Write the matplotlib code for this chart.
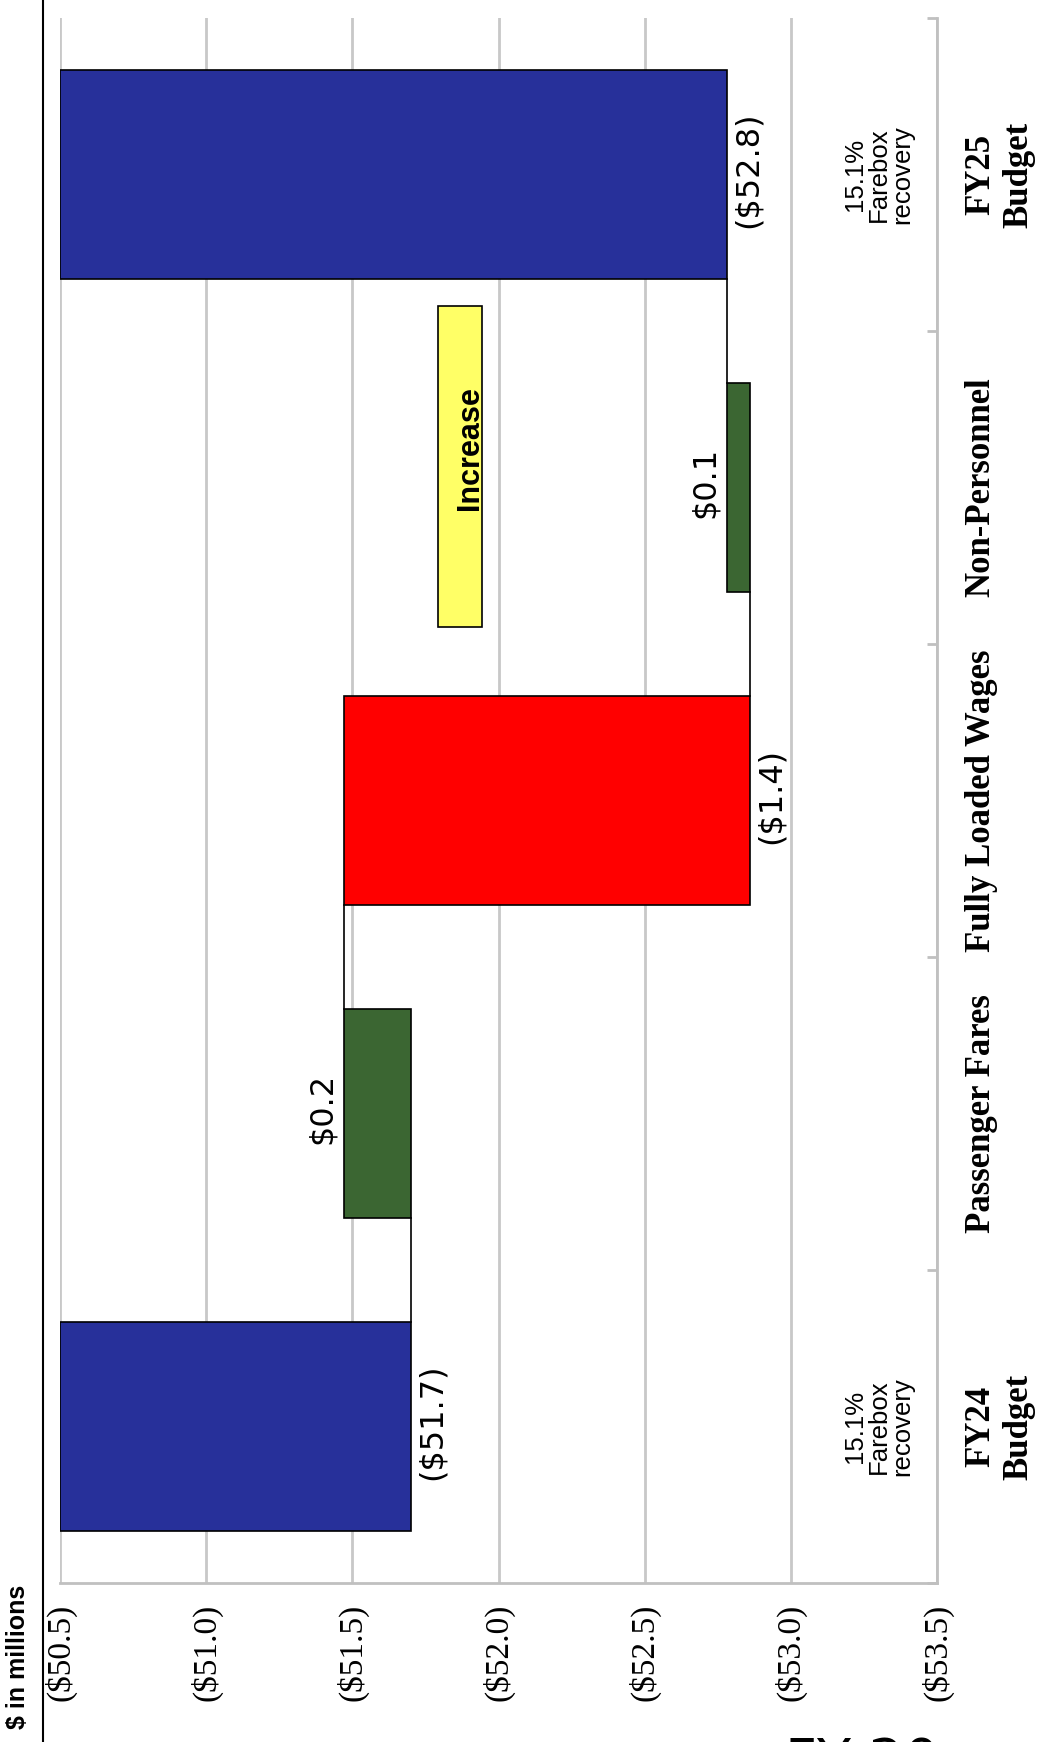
import numpy as np
import matplotlib.pyplot as plt
from matplotlib.patches import Rectangle
from matplotlib.lines import Line2D

# waterfall data ($ in millions, shown as negatives)
categories = ['FY24\nBudget', 'Passenger Fares', 'Fully Loaded Wages', 'Non-Personnel', 'FY25\nBudget']
fy24_total = -51.70
changes = [0.23, -1.39, 0.08]   # fares, wages, non-personnel
fy25_total = -52.78
value_labels = ['($51.7)', '$0.2', '($1.4)', '$0.1', '($52.8)']
bar_colors = ['#27309a', '#3b6632', '#ff0000', '#3b6632', '#27309a']
farebox_text = '15.1%\nFarebox\nrecovery'
value_ticks = [-50.5, -51.0, -51.5, -52.0, -52.5, -53.0, -53.5]

W, H = 1047, 1742
fig = plt.figure(figsize=(W / 100, H / 100), dpi=100)
ax = fig.add_axes([60 / W, 1 - 1583 / H, (937 - 60) / W, (1583 - 18) / H])

# running totals
base = value_ticks[0]
running = [fy24_total]
for c in changes:
    running.append(running[-1] + c)
starts = np.array([base] + running[:-1] + [base])
ends = np.array(running + [fy25_total])
ypos = np.arange(len(categories))

ax.barh(ypos, ends - starts, left=starts, height=0.67, color=bar_colors,
        edgecolor='black', linewidth=1.2, zorder=3)

# connectors between bars
for i in range(len(categories) - 1):
    ax.plot([ends[i], ends[i]], [ypos[i] + 0.335, ypos[i + 1] - 0.335],
            color='black', linewidth=1.2, zorder=2)

# value labels at the new running total
for i in range(len(categories)):
    if ends[i] < starts[i]:
        off, ha = 6, 'left'
    else:
        off, ha = -6, 'right'
    ax.annotate(value_labels[i], xy=(ends[i], ypos[i]), xytext=(off, 5),
                textcoords='offset pixels', rotation=90, ha=ha, va='center',
                fontsize=23, family='DejaVu Sans', zorder=4)

# farebox notes
for i in [0, len(categories) - 1]:
    ax.text(-53.30, ypos[i], farebox_text, rotation=90, ha='center', va='center',
            fontsize=18.5, family='Liberation Sans', linespacing=1.0,
            multialignment='center')

ax.set_xlim(-50.5, -53.5)
ax.set_ylim(-0.5, len(categories) - 0.5)
ax.set_xticks(value_ticks)
ax.set_xticklabels(['($%.1f)' % abs(v) for v in value_ticks], rotation=90,
                   family='Liberation Serif', fontsize=24, va='top', ha='center')
ax.tick_params(axis='x', length=0, pad=15)
ax.grid(axis='x', color='#c8c8c8', linewidth=2, zorder=0)
ax.set_axisbelow(True)

ax.yaxis.tick_right()
ax.set_yticks(ypos)
ax.set_yticklabels(categories, rotation=90, family='Liberation Serif',
                   fontweight='bold', fontsize=25, va='center', ha='left',
                   multialignment='center', linespacing=1.2)
ax.set_yticks(np.arange(-0.5, len(categories)), minor=True)
ax.tick_params(axis='y', which='major', length=0, pad=20)
ax.tick_params(axis='y', which='minor', length=7, width=2, color='#c0c0c0',
               direction='in', right=True, left=False)

for s in ['top', 'left']:
    ax.spines[s].set_visible(False)
for s in ['bottom', 'right']:
    ax.spines[s].set_color('#c0c0c0')
    ax.spines[s].set_linewidth(2)

# page decorations
fig.add_artist(Line2D([43 / W, 43 / W], [0, 1], color='black', linewidth=1.5))
fig.text(18 / W, 1 - 1657 / H, '$ in millions', rotation=90, ha='center', va='center',
         fontsize=18, fontweight='bold', family='Liberation Sans')
fig.add_artist(Rectangle((438 / W, 1 - 627 / H), 44 / W, 321 / H,
                         transform=fig.transFigure, facecolor='#ffff66',
                         edgecolor='black', linewidth=1.2, zorder=5))
fig.text(470 / W, 1 - 448 / H, 'Increase', rotation=90, ha='center', va='center',
         fontsize=22, fontweight='bold', family='Liberation Sans', zorder=6)
fig.text(785 / W, 1 - 1736 / H, 'FY 20', ha='left', va='top',
         fontsize=40, family='DejaVu Sans')

fig.savefig('out.png', dpi=100)
